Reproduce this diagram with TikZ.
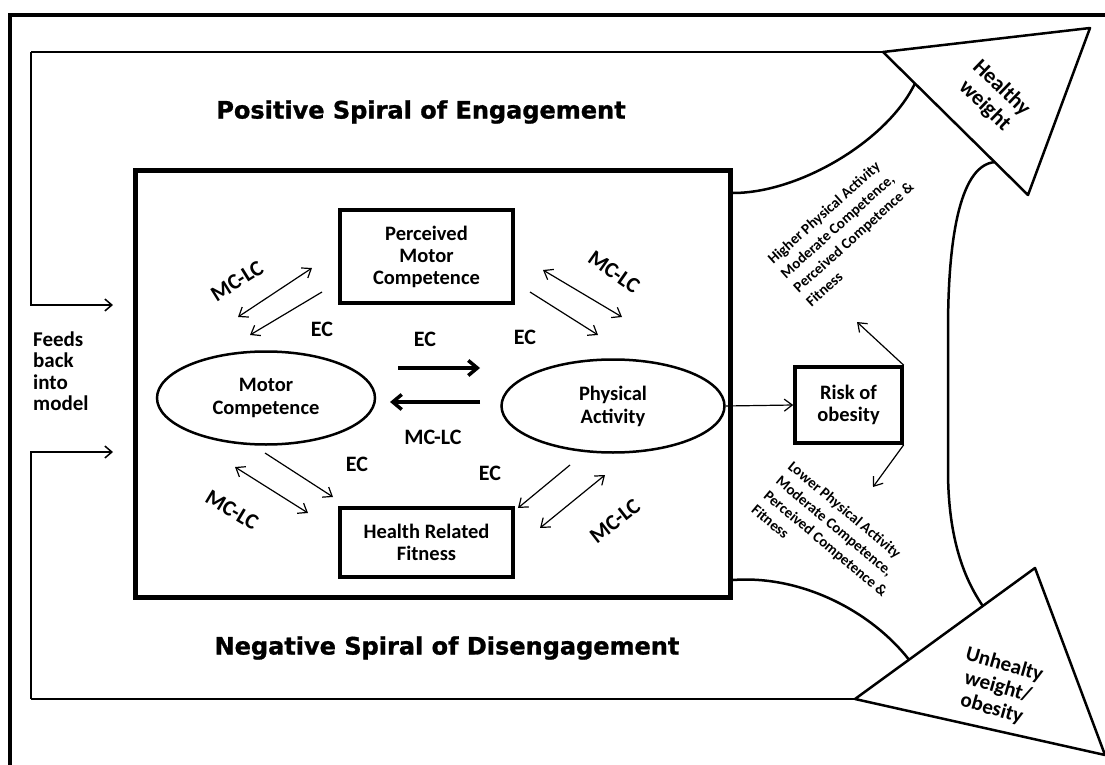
\documentclass[tikz,border=0pt]{standalone}
\usepackage{fontspec}
\setmainfont{Carlito}
\newfontfamily\spiralfont[BoldFeatures={FakeBold=1.2}]{DejaVu Sans}
\usetikzlibrary{arrows.meta,shapes.geometric,calc}

\begin{document}
\begin{tikzpicture}[x=1pt,y=-1pt,
  box/.style={draw,line width=4pt,minimum width=173pt,inner sep=0pt,align=center,
    font=\bfseries\fontsize{20.5}{22}\selectfont},
  oval/.style={draw,ellipse,line width=2.5pt,minimum height=93pt,inner sep=0pt,align=center,
    font=\bfseries\fontsize{20.5}{23}\selectfont},
  lbl/.style={font=\bfseries\fontsize{22}{24}\selectfont},
  side/.style={align=left,inner sep=0pt,font=\bfseries\fontsize{15}{19}\selectfont},
  title/.style={font=\spiralfont\bfseries\fontsize{24}{28}\selectfont},
  thin/.style={line width=1.2pt,-{Straight Barb[length=8pt,width=12pt]}},
  both/.style={line width=1.2pt,{Straight Barb[length=8pt,width=12pt]}-{Straight Barb[length=8pt,width=12pt]}},
  thick/.style={line width=3.5pt,-{Straight Barb[length=9pt,width=15pt]}},
  fb/.style={line width=1.5pt},
  bigarrow/.style={line width=2.5pt,line join=round}]
  \useasboundingbox (0,0) rectangle (1105,765);

  % outer frame
  \draw[line width=4pt] (10,780) -- (10,15) -- (1120,15);

  % main box
  \node (mainbox) [draw,line width=5pt,minimum width=595pt,minimum height=427pt] at (432.5,383.5) {};

  \node (pmc) [box,minimum height=93pt] at (426.5,256.5) {Perceived\\Motor\\Competence};
  \node (hrf) [box,minimum height=69pt] at (426.5,542.5) {Health Related\\Fitness};
  \node (mc)  [oval,minimum width=218pt] at (266,398) {Motor\\Competence};
  \node (pa)  [oval,minimum width=223pt] at (613,406) {Physical\\Activity};
  \node (risk) [box,line width=3.5pt,minimum width=107pt,minimum height=76pt] at (848.5,405) {Risk of\\obesity};

  % middle pair
  \coordinate (mr1) at (398,368);
  \coordinate (mr2) at (480,368);
  \coordinate (ml1) at (480,402);
  \coordinate (ml2) at (390,402);
  \draw[thick] (mr1) -- (mr2);
  \draw[thick] (ml1) -- (ml2);
  \node (ecm) [lbl] at (425,339) {EC};
  \node (mclcm) [lbl] at (433,437) {MC-LC};

  % top left pair
  \coordinate (tla) at (238,317);
  \coordinate (tlb) at (312,268);
  \coordinate (tlc) at (322,292);
  \coordinate (tld) at (250,335);
  \draw[both] (tla) -- (tlb);
  \draw[thin] (tlc) -- (tld);
  \node (mclctl) [lbl,rotate=32] at (237,281) {MC-LC};
  \node (ectl) [lbl] at (322,329) {EC};

  % top right pair
  \coordinate (tra) at (543,270);
  \coordinate (trb) at (622,317);
  \coordinate (trc) at (530,292);
  \coordinate (trd) at (598,335);
  \draw[both] (tra) -- (trb);
  \draw[thin] (trc) -- (trd);
  \node (mclctr) [lbl,rotate=-35] at (614,272) {MC-LC};
  \node (ectr) [lbl] at (525,337) {EC};

  % bottom left pair
  \coordinate (bla) at (235,467);
  \coordinate (blb) at (308,513);
  \coordinate (blc) at (265,453);
  \coordinate (bld) at (333,497);
  \draw[both] (bla) -- (blb);
  \draw[thin] (blc) -- (bld);
  \node (mclcbl) [lbl,rotate=-31] at (232,510) {MC-LC};
  \node (ecbl) [lbl] at (357,464) {EC};

  % bottom right pair
  \coordinate (bra) at (605,475);
  \coordinate (brb) at (540,528);
  \coordinate (brc) at (570,465);
  \coordinate (brd) at (518,508);
  \draw[both] (bra) -- (brb);
  \draw[thin] (brc) -- (brd);
  \node (mclcbr) [lbl,rotate=38] at (615,521) {MC-LC};
  \node (ecbr) [lbl] at (490,473) {EC};

  % risk of obesity
  \coordinate (up) at (857,322);
  \coordinate (down) at (873,487);
  \draw[thin] (pa.east) -- (risk.west);
  \draw[thin] (risk.north east) -- (up);
  \draw[thin] (risk.south east) -- (down);

  % big arrows
  \coordinate (hw1) at (883,52);
  \coordinate (hw2) at (1090,28);
  \coordinate (hw3) at (1028,195);
  \coordinate (uw1) at (855,699);
  \coordinate (uw2) at (1035,568);
  \coordinate (uw3) at (1105,755);
  \coordinate (shaft1) at (733,193);
  \coordinate (shaft2) at (733,580);
  \draw[bigarrow] (hw1) -- (hw2) -- (hw3) -- cycle;
  \draw[bigarrow] (uw1) -- (uw2) -- (uw3) -- cycle;
  \draw[bigarrow] (shaft1) .. controls (800,193) and (888,140) .. ($(hw1)!0.22!(hw3)$);
  \draw[bigarrow] (shaft2) .. controls (800,575) and (870,610) .. ($(uw1)!0.3!(uw2)$);
  \draw[bigarrow] ($(hw1)!0.77!(hw3)$) .. controls (962,165) and (948,230) .. (948,330)
    -- (948,470) .. controls (948,540) and (965,580) .. ($(uw1)!0.71!(uw2)$);
  \node (healthy) [align=center,inner sep=0pt,rotate=-44,font=\bfseries\fontsize{22}{24}\selectfont]
    at (993,97) {Healthy\\weight};
  \node (unhealthy) [align=center,inner sep=0pt,rotate=-16,font=\bfseries\fontsize{21}{23}\selectfont]
    at (998,687) {Unhealty\\weight/\\obesity};
  \node (higher) [side,rotate=42] at (847,230)
    {Higher Physical Activity\\Moderate Competence,\\Perceived Competence \&\\Fitness};
  \node (lower) [side,rotate=-40] at (832,536)
    {Lower Physical Activity\\Moderate Competence,\\Perceived Competence \&\\Fitness};

  % feedback loop
  \coordinate (fbtop) at (31,52);
  \coordinate (fbbot) at (31,699);
  \coordinate (fbin1) at (113,305);
  \coordinate (fbin2) at (113,452);
  \draw[fb] (hw1) -- (fbtop);
  \draw[fb,-{Straight Barb[length=7pt,width=12pt]}] (fbtop) |- (fbin1);
  \draw[fb] (uw1) -- (fbbot);
  \draw[fb,-{Straight Barb[length=7pt,width=12pt]}] (fbbot) |- (fbin2);
  \node (feeds) [align=left,inner sep=0pt,anchor=west,font=\bfseries\fontsize{21}{21.5}\selectfont]
    at (33,371) {Feeds\\back\\into\\model};

  % spiral titles
  \node (postitle) [title] at (421,112) {Positive Spiral of Engagement};
  \node (negtitle) [title] at (447,648) {Negative Spiral of Disengagement};
\end{tikzpicture}
\end{document}
